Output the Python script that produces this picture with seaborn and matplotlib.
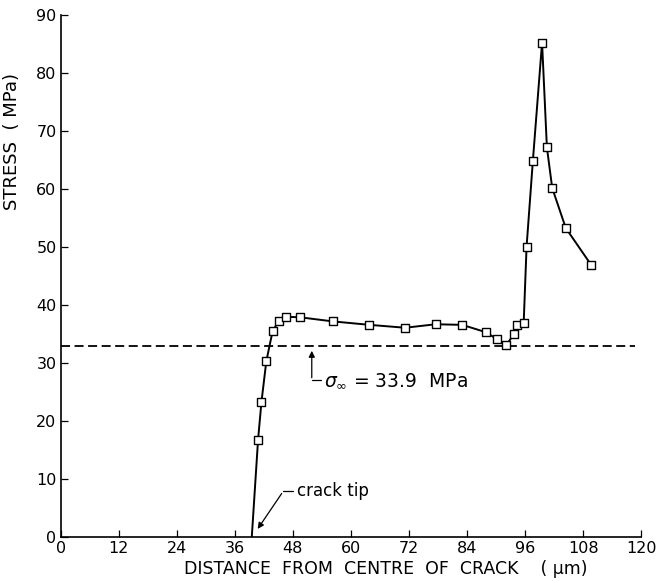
import numpy as np
import pandas as pd
import seaborn as sns
import matplotlib.pyplot as plt

# stress profile (first point = crack tip, no marker)
dist = [39.5, 40.8, 41.5, 42.5, 43.8, 45.1, 46.5, 49.5, 56.2, 63.8, 71.2, 77.5,
        83.0, 88.0, 90.2, 92.1, 93.7, 94.4, 95.7, 96.3, 97.6, 99.5, 100.5,
        101.6, 104.4, 109.6]
stress = [0.0, 16.8, 23.3, 30.3, 35.5, 37.3, 38.0, 37.9, 37.2, 36.6, 36.1, 36.7,
          36.6, 35.3, 34.1, 33.1, 35.0, 36.5, 36.9, 50.1, 64.9, 85.3, 67.2,
          60.2, 53.3, 47.0]
sigma_inf = 33.0
x_ticks = list(range(0, 121, 12))
y_ticks = list(range(0, 91, 10))

data = pd.DataFrame({"dist": dist, "stress": stress})
meas = data.iloc[1:]

sns.set_style("ticks", {"text.color": "black", "axes.labelcolor": "black",
                        "xtick.color": "black", "ytick.color": "black",
                        "axes.edgecolor": "black"})
plt.rcParams['font.family'] = ['DejaVu Sans']

fig = plt.figure(figsize=(6.56, 5.81), dpi=100)
ax = fig.add_axes([0.0925, 0.0757, 0.885, 0.898])

ax.plot([0, 118.8], [sigma_inf, sigma_inf], color='black', lw=1.3,
        ls=(0, (5, 2.5)))
sns.lineplot(data=data, x="dist", y="stress", color='black', lw=1.4,
             sort=False, ax=ax)
sns.scatterplot(data=meas, x="dist", y="stress", marker='s', s=38,
                color='white', edgecolor='black', linewidth=1.0, zorder=5,
                ax=ax)

# sigma annotation
ax.annotate('', xy=(51.9, 32.6), xytext=(51.9, 27.0),
            arrowprops=dict(arrowstyle='-|>', color='black', lw=0.9,
                            mutation_scale=9))
ax.plot([51.9, 53.8], [27.0, 27.0], color='black', lw=0.9)
ax.text(54.5, 27.0, r'$\sigma_{\infty}$ = 33.9  MPa', fontsize=13.5,
        va='center', ha='left')

# crack tip annotation
ax.plot([48.0, 46.0], [7.9, 7.9], color='black', lw=0.9)
ax.annotate('', xy=(40.4, 1.0), xytext=(46.0, 7.9),
            arrowprops=dict(arrowstyle='-|>', color='black', lw=0.9,
                            mutation_scale=9))
ax.text(48.9, 7.9, 'crack tip', fontsize=12, va='center', ha='left')

ax.set_xlim(0, 120)
ax.set_ylim(0, 90)
ax.set_xticks(x_ticks)
ax.set_yticks(y_ticks)
ax.tick_params(direction='in', length=5, width=0.9, labelsize=11.5, pad=3)
for s in ['top', 'right']:
    ax.spines[s].set_visible(False)
for s in ['left', 'bottom']:
    ax.spines[s].set_linewidth(1.2)

ax.set_xlabel('')
fig.text(386 / 656, 0.012,
         'DISTANCE  FROM  CENTRE  OF  CRACK    ( μm)', fontsize=12.5,
         ha='center', va='baseline')
ax.set_ylabel('STRESS  ( MPa)', fontsize=13)
ax.yaxis.set_label_coords(-0.068, 0.759)

fig.savefig('out.png', dpi=100)
